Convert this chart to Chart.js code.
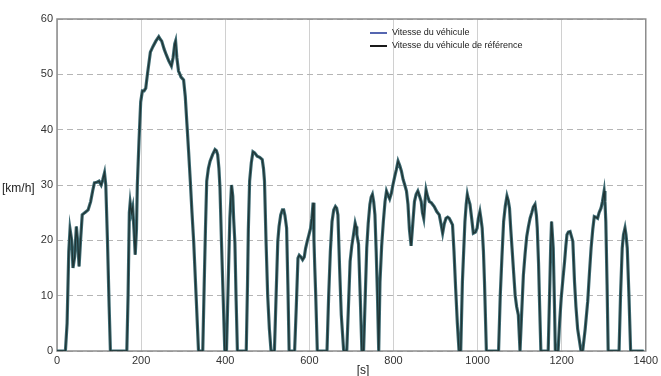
<!DOCTYPE html>
<html>
<head>
<meta charset="utf-8">
<script src="https://cdn.jsdelivr.net/npm/chart.js@4/dist/chart.umd.min.js"></script>
<style>
  html, body { margin: 0; padding: 0; background: #ffffff; }
  #wrap { width: 661px; height: 376px; position: relative; }
</style>
</head>
<body>
<div id="wrap"><canvas id="c" width="661" height="376"></canvas></div>
<script>
// ---- data ----
const seriesLabels = ["Vitesse du véhicule", "Vitesse du véhicule de référence"];
const xTickValues = [0, 200, 400, 600, 800, 1000, 1200, 1400];
const yTickValues = [0, 10, 20, 30, 40, 50, 60];
const timeS = [
  0,20,24,28,31,35,38,42,46,49,52.5,56,60,66,74,80,85,89,95,100,105,109,113,116,120,124,127,
  166,169,172,174,177,180,183,186,189,191,195,199,203,207,211,215,222,228,235,242,246,249,255,260,266,272,276,280,282,285,289,295,301,305,309,313,317,321,325,331,336.5,
  346.6,350,353,356,360,364,370,375.8,379,382,385,387.5,391,395,399,
  403,407,411,415,418,420,423,426,429,
  450,453,455,458,462,466,470,476,482,488,491,493.4,497,501,505,509,
  517,521,525,528,532,536,539,542,546,549,552,
  565,569,573,576,580,584,588,591,595,599,603,606,609,611,613,615,619,
  642,646,650,654,658,662,665,668,672,676,681.7,
  689,693,697,701,705,709,711,713,717,721,725,
  729,733,736.5,740,744,747,750,753,756,759,762,765,
  768,772,776,780,783.5,787,791,795,799,803,807,811,815,819,823,827,831,834.6,838,842,846,850,854,858,862,866,869,872,875,877.6,881,885.5,890,897,903,909,913,917,921,925,929,932.6,936,940.5,944,948,952,956,
  960,964,967,970,973,975.7,978,982,986,990,995,999,1002,1005.6,1008,1011,1014,1016.5,1021,
  1050,1054,1058,1062,1066,1070,1073,1076,1079,1082,1086,1089.5,1093,1097,1101,
  1105,1109,1113,1117,1121,1125,1129,1132.6,1136.6,1140,1142,1145,1147,1150.6,
  1168,1172,1174,1176,1178,1180,1183,1185,
  1191.5,1195,1199,1203,1207,1210,1212.6,1216,1220,1223,1226.6,1230.6,1234,1238,1246,
  1250,1256,1262,1266,1270,1274,1277.6,1281,1285.5,1289,1293.5,1297,1301,1303,1305,1308,1310.6,
  1336.5,1340,1344,1347,1350.6,1353,1356,1360,1364,1395
];
const referenceSpeed = [
  0,0,5,18,22,20,15,17,22.5,20,15.3,20,24.6,25,25.5,27,29,30.4,30.5,30.7,30,31,32.2,30,20,8,0,
  0,10,25,26.8,25,26,22,17.4,22,30,38,45,47,47,47.5,50,54,55,56,56.8,56.3,56,54.5,53.5,52.4,51.5,53,55.5,56,53,50.6,49.5,49,46,41,36,30.7,25,19.8,9.6,0,
  0,12,22,30.7,33,34.3,35.5,36.4,36.2,35.5,33,29.5,20,10,0,
  0,12,24,30,28,24,19.6,9,0,
  0,12,22,30.7,34,36,35.8,35.2,35,34.6,33,30.7,20,10,4,0,
  0,10,19.8,22.5,24.6,25.5,25.5,24.5,22.2,12,0,
  0,8,16.8,17.3,17,16.5,17,18.5,19.8,21,22.2,24,26.8,20,15,10.6,0,
  0,10,18,23.4,25.5,26.1,25.8,24.6,15,6.5,0,
  0,8,16.2,19,21,23.1,22.5,21,19.3,10,0,
  0,10,18.6,23,26.5,27.8,28.3,27,24.6,18,10,0,
  12.5,19,23.4,27,28.9,28.2,27.5,28.5,30.1,31.5,32.8,34.3,33.5,32.5,31,30,28.9,26.5,22,19,23,27,28.3,28.9,28,27,25,24,27,29.1,28,27,26.8,26.1,25.2,24.6,23,21.3,23,24,24.2,24,23.5,22.8,18,11.2,5,0,
  0,12.5,18,23.4,26.5,28.3,27.5,26.5,24,21.3,21.5,22.2,24,25.2,24,22.2,18,12.5,0,
  0,10,17,23.4,26.2,28,27.2,25.8,22,18.6,14,10,8,6.5,0,
  7,13.7,17.5,20.7,22.5,24,25,26,26.5,24.5,22.2,16,10,0,
  0,12.5,19,23.4,21,18.6,8,0,
  0,5,9.6,13,16.2,19,21,21.5,21.6,20.8,19.8,12.5,8,4,0,
  0,4,9,14,18.6,22,24.3,24.2,24,25,25.8,27,28.9,27,23.4,12,0,
  0,10,18.6,21,22.2,21,18.6,10,0,0
];
// measured vehicle speed follows the reference so closely that both traces overlap
const vehicleSpeed = referenceSpeed.slice();

const toPoints = (ys) => timeS.map((t, i) => ({ x: t, y: ys[i] }));

const FONT = "'Liberation Sans', Arial, sans-serif";

const overlayPlugin = {
  id: 'overlay',
  beforeDatasetsDraw(chart) {
    const { ctx, chartArea: a } = chart;
    ctx.save();
    ctx.strokeStyle = '#8c8c8c';
    ctx.lineWidth = 1.5;
    ctx.strokeRect(a.left, a.top, a.right - a.left, a.bottom - a.top);
    ctx.restore();
  },
  afterDraw(chart) {
    const { ctx } = chart;
    ctx.save();
    ctx.fillStyle = '#222';
    ctx.font = '12px ' + FONT;
    ctx.textAlign = 'left';
    ctx.textBaseline = 'middle';
    ctx.fillText('[km/h]', 2, 189);
    ctx.textAlign = 'center';
    ctx.fillText('[s]', 363, 371);
    // legend inside the plot
    const ds = chart.data.datasets;
    const lx = 370, ly = [33, 46];
    ctx.font = '9px ' + FONT;
    ctx.textAlign = 'left';
    ds.forEach((d, i) => {
      ctx.strokeStyle = d.legendColor;
      ctx.lineWidth = 2;
      ctx.beginPath();
      ctx.moveTo(lx, ly[i]);
      ctx.lineTo(lx + 17, ly[i]);
      ctx.stroke();
      ctx.fillStyle = '#1a1a1a';
      ctx.fillText(d.label, lx + 22, ly[i]);
    });
    ctx.restore();
  }
};

new Chart(document.getElementById('c'), {
  type: 'line',
  data: {
    datasets: [
      {
        label: seriesLabels[0],
        data: toPoints(vehicleSpeed),
        borderColor: '#3d6a72',
        legendColor: '#5566b0',
        borderWidth: 3.2,
        pointRadius: 0,
        tension: 0,
        order: 2
      },
      {
        label: seriesLabels[1],
        data: toPoints(referenceSpeed),
        borderColor: '#1f3434',
        legendColor: '#1a1a1a',
        borderWidth: 1.3,
        pointRadius: 0,
        tension: 0,
        order: 1
      }
    ]
  },
  options: {
    responsive: false,
    animation: false,
    devicePixelRatio: 1,
    layout: { padding: { left: 0, top: 19, right: 10, bottom: 0 } },
    plugins: { legend: { display: false }, tooltip: { enabled: false } },
    scales: {
      x: {
        type: 'linear',
        min: 0, max: 1400,
        afterBuildTicks(scale) { scale.ticks = xTickValues.map(v => ({ value: v })); },
        afterFit(scale) { scale.height = 25; },
        ticks: { color: '#333', font: { family: FONT, size: 11 }, padding: 3, maxRotation: 0,
                 callback: (v) => String(v) },
        grid: { color: '#d0d0d0', lineWidth: 1, drawTicks: false },
        border: { display: false }
      },
      y: {
        type: 'linear',
        min: 0, max: 60,
        afterBuildTicks(scale) { scale.ticks = yTickValues.map(v => ({ value: v })); },
        afterFit(scale) { scale.width = 57; },
        ticks: { color: '#333', font: { family: FONT, size: 11 }, padding: 4,
                 callback: (v) => String(v) },
        grid: { color: '#b5b5b5', lineWidth: 1, drawTicks: false },
        border: { display: false, dash: [6, 4] }
      }
    }
  },
  plugins: [overlayPlugin]
});
</script>
</body>
</html>
